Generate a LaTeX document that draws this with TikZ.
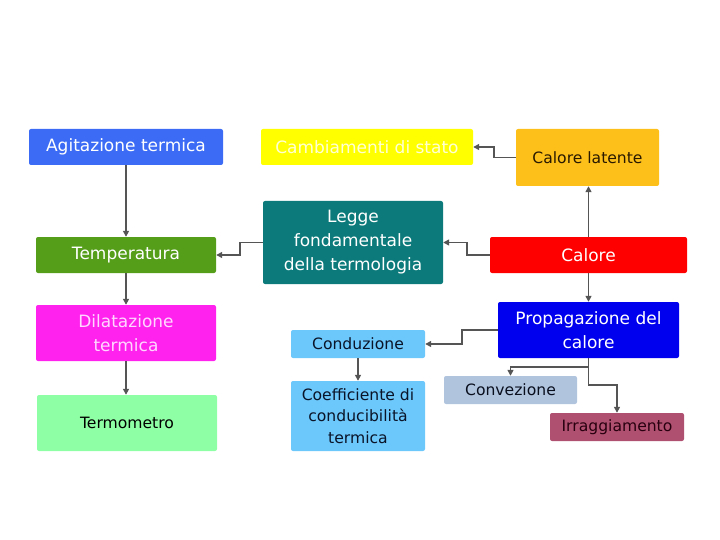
\documentclass[tikz,border=0pt]{standalone}
\usepackage{fontspec}
\setmainfont{DejaVu Sans}
\usetikzlibrary{arrows.meta}
\definecolor{cAgit}{RGB}{60,108,245}
\definecolor{cTemp}{RGB}{85,158,26}
\definecolor{cDil}{RGB}{255,34,238}
\definecolor{cTerm}{RGB}{143,255,165}
\definecolor{cCamb}{RGB}{255,255,0}
\definecolor{cLegge}{RGB}{12,122,122}
\definecolor{cLat}{RGB}{253,192,27}
\definecolor{cCal}{RGB}{255,0,0}
\definecolor{cCond}{RGB}{108,199,250}
\definecolor{cProp}{RGB}{0,0,238}
\definecolor{cConv}{RGB}{176,196,222}
\definecolor{cIrr}{RGB}{176,80,112}
\definecolor{cLine}{RGB}{85,85,85}
\tikzset{
  box/.style={rounded corners=2pt, inner sep=0pt, align=center, anchor=center},
  bigtxt/.style={font=\fontsize{17}{24}\selectfont},
  smalltxt/.style={font=\fontsize{15.6}{21.5}\selectfont},
  conn/.style={draw=cLine, line width=1.9pt, -{Triangle[length=6pt,width=6pt]}},
}
\begin{document}
\begin{tikzpicture}[x=1pt,y=-1pt]
\useasboundingbox (0,0) rectangle (720,540);
\node[box,bigtxt,fill=cAgit,text=white,minimum width=194pt,minimum height=36pt] (agit) at (126,147) {Agitazione termica};
\node[box,bigtxt,fill=cTemp,text=white,minimum width=180pt,minimum height=36pt] (temp) at (126,255) {Temperatura};
\node[box,bigtxt,fill=cDil,text={rgb,255:red,255;green,215;blue,255},minimum width=180pt,minimum height=56pt] (dil) at (126,333) {Dilatazione\\termica};
\node[box,smalltxt,fill=cTerm,text=black,minimum width=180pt,minimum height=56pt] (term) at (127,423) {Termometro};
\node[box,bigtxt,fill=cCamb,text={rgb,255:red,255;green,255;blue,215},minimum width=212pt,minimum height=36pt] (camb) at (367,147) {Cambiamenti di stato};
\node[box,bigtxt,fill=cLegge,text=white,minimum width=180pt,minimum height=83pt] (legge) at (353,242.5) {Legge\\fondamentale\\della termologia};
\node[box,smalltxt,fill=cLat,text={rgb,255:red,40;green,25;blue,0},minimum width=143pt,minimum height=57pt] (lat) at (587.5,157.5) {Calore latente};
\node[box,bigtxt,fill=cCal,text=white,minimum width=197pt,minimum height=36pt] (cal) at (588.5,255) {Calore};
\node[box,smalltxt,fill=cCond,text={rgb,255:red,10;green,20;blue,40},minimum width=134pt,minimum height=28pt] (cond) at (358,344) {Conduzione};
\node[box,smalltxt,fill=cCond,text={rgb,255:red,10;green,20;blue,40},minimum width=134pt,minimum height=70pt] (coeff) at (358,416) {Coefficiente di\\conducibilità\\termica};
\node[box,bigtxt,fill=cProp,text=white,minimum width=181pt,minimum height=56pt] (prop) at (588.5,330) {Propagazione del\\calore};
\node[box,smalltxt,fill=cConv,text={rgb,255:red,10;green,15;blue,30},minimum width=133pt,minimum height=28pt] (conv) at (510.5,390) {Convezione};
\node[box,smalltxt,fill=cIrr,text={rgb,255:red,40;green,0;blue,15},minimum width=134pt,minimum height=28pt] (irr) at (617,427) {Irraggiamento};

\draw[conn] (agit.south) -- (temp.north);
\draw[conn] (temp.south) -- (dil.north);
\draw[conn] (dil.south) -- (dil.south |- term.north);
\draw[conn] (legge.west) -- ++(-23,0) |- (temp.east);
\draw[conn] (lat.west) -- ++(-22,0) |- (camb.east);
\draw[conn] (cal.west) -- ++(-23,0) |- (legge.east);
\draw[conn] (cal.north) -- (cal.north |- lat.south);
\draw[conn] (cal.south) -- (prop.north);
\draw[conn] (prop.west) -- ++(-36,0) |- (cond.east);
\draw[conn] (cond.south) -- (coeff.north);
\draw[conn] (prop.south) -- ++(0,9) -| (conv.north);
\draw[conn] (prop.south) -- ++(0,27) -| (irr.north);
\end{tikzpicture}
\end{document}
